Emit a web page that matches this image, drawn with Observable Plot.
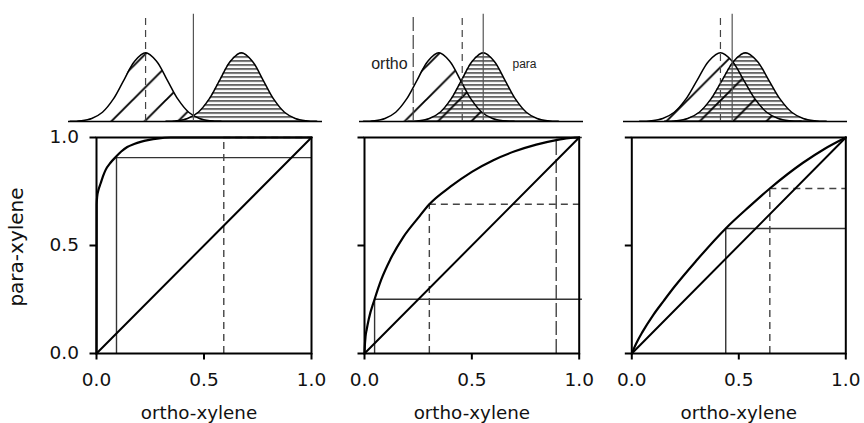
<!DOCTYPE html>
<html><head><meta charset="utf-8">
<script src="https://cdn.jsdelivr.net/npm/d3@7"></script>
<script src="https://cdn.jsdelivr.net/npm/@observablehq/plot@0.6"></script>
<style>
html,body{margin:0;padding:0;background:#fff;}
#chart{position:relative;width:864px;height:423px;overflow:hidden;background:#fff;}
#chart svg{position:absolute;overflow:visible;}
</style></head><body><div id="chart"></div>
<script>
// ---------- data ----------
const xTicks = [0, 0.5, 1];
const yTicks = [0, 0.5, 1];
const xLabel = "ortho-xylene";
const yLabel = "para-xylene";
const seriesNames = ["ortho", "para"];
const chanceLine = [0, 1];

// bell profile: offset (in spreads) -> relative height
const bellOffset = [-3.5, -3, -2.5, -2, -1.5, -1, -0.5, 0, 0.5, 1, 1.5, 2, 2.5, 3, 3.5];
const bellHeight = [0.002, 0.011, 0.044, 0.135, 0.325, 0.607, 0.882, 1, 0.882, 0.607, 0.325, 0.135, 0.044, 0.011, 0.002];

// top distributions (signal units)
const signalMax = [14.5, 12.8, 12.8];
const orthoMean = [4.4, 4.53, 5.54];
const paraMean = [9.87, 7.07, 6.97];
const spread = [1.23, 1.23, 1.32];
const critX1 = [4.4, 7.13];
const critKind1 = ["dashed", "solid"];
const critX2 = [3.07, 5.87, 7.07];
const critKind2 = ["long", "dashed", "solid"];
const critX3 = [5.54, 6.21];
const critKind3 = ["dashed", "solid"];
const nameX = [1.71, 9.43];
const nameY = [0.84, 0.84];

// ROC curves (false alarm rate, hit rate)
const roc1X = [0, 0.0008, 0.003, 0.01, 0.019, 0.03, 0.042, 0.065, 0.088, 0.115, 0.143, 0.175, 0.205, 0.245, 0.282, 0.344, 0.6, 1];
const roc1Y = [0, 0.69, 0.725, 0.76, 0.787, 0.82, 0.849, 0.883, 0.908, 0.935, 0.956, 0.97, 0.98, 0.989, 0.995, 1, 1, 1];
const roc2X = [0, 0.001, 0.005, 0.01, 0.02, 0.047, 0.078, 0.12, 0.18, 0.25, 0.302, 0.4, 0.5, 0.6, 0.7, 0.8, 0.893, 0.95, 1];
const roc2Y = [0, 0.025, 0.08, 0.11, 0.16, 0.251, 0.342, 0.435, 0.538, 0.628, 0.691, 0.772, 0.841, 0.895, 0.936, 0.967, 0.988, 0.997, 1];
const roc3X = [0, 0.02, 0.05, 0.1, 0.15, 0.2, 0.3, 0.439, 0.55, 0.645, 0.8, 0.9, 1];
const roc3Y = [0, 0.045, 0.1, 0.178, 0.245, 0.31, 0.428, 0.579, 0.681, 0.764, 0.883, 0.947, 1];

// ROC operating points (false alarm, hit)
const thrF1 = [0.093, 0.592];
const thrH1 = [0.907, 1.0];
const thrKind1 = ["solid", "dashed"];
const thrF2 = [0.047, 0.302, 0.893];
const thrH2 = [0.251, 0.691, 1.0];
const thrKind2 = ["solid", "dashed", "long"];
const thrF3 = [0.439, 0.645];
const thrH3 = [0.579, 0.764];
const thrKind3 = ["solid", "dashed"];
const thrEnd = [1.0, 1.015, 1.0];

// ---------- drawing ----------
const dashFor = {solid: undefined, dashed: "7,5", long: "14,4"};
const font = '"DejaVu Sans", Verdana, sans-serif';
const smallFont = '"Liberation Sans", Arial, sans-serif';
const chart = document.getElementById("chart");
const fmt = d3.format(".1f");

function place(svg, left, top) {
  svg.style.left = left + "px";
  svg.style.top = top + "px";
  chart.appendChild(svg);
}

const topLayout = [
  {left: 0, width: 330, ml: 68, mr: 8, phase: 32.67},
  {left: 340, width: 260, ml: 19, mr: 17, phase: 19.3},
  {left: 600, width: 264, ml: 23, mr: 17, phase: 21}
];
const critX = [critX1, critX2, critX3];
const critKind = [critKind1, critKind2, critKind3];

function distPlot(p) {
  const L = topLayout[p];
  const sd = spread[p];
  const ortho = bellOffset.map((o, j) => ({x: orthoMean[p] + o * sd, y: bellHeight[j]}));
  const para = bellOffset.map((o, j) => ({x: paraMean[p] + o * sd, y: bellHeight[j]}));
  const crit = critX[p].map((x, j) => ({x, k: critKind[p][j]}));
  const marks = [
    Plot.areaY(ortho, {x: "x", y: "y", curve: "catmull-rom", fill: `url(#diag${p})`}),
    Plot.areaY(para, {x: "x", y: "y", curve: "catmull-rom", fill: `url(#horiz${p})`}),
    Plot.lineY(ortho, {x: "x", y: "y", curve: "catmull-rom", stroke: "#000", strokeWidth: 1.5}),
    Plot.lineY(para, {x: "x", y: "y", curve: "catmull-rom", stroke: "#000", strokeWidth: 1.5}),
    Plot.ruleY([0], {stroke: "#000", strokeWidth: 1.5}),
    ...["solid", "dashed", "long"].map(k => Plot.ruleX(crit.filter(d => d.k === k), {
      x: "x", y1: 0, y2: 1.56, stroke: k === "solid" ? "#555" : "#444", strokeWidth: 1.2,
      strokeDasharray: dashFor[k]
    }))
  ];
  if (p === 1) {
    marks.push(Plot.text([0], {x: () => nameX[0], y: () => nameY[0], text: () => seriesNames[0], fontSize: 16, fill: "#222"}));
    marks.push(Plot.text([0], {x: () => nameX[1], y: () => nameY[1], text: () => seriesNames[1], fontSize: 12, fill: "#222"}));
  }
  const svg = Plot.plot({
    width: L.width, height: 125,
    marginLeft: L.ml, marginRight: L.mr, marginTop: 52.3, marginBottom: 4,
    style: {background: "transparent", fontFamily: smallFont, overflow: "visible"},
    x: {domain: [0, signalMax[p]], axis: null},
    y: {domain: [0, 1], axis: null},
    marks
  });
  const ns = "http://www.w3.org/2000/svg";
  const defs = document.createElementNS(ns, "defs");
  defs.innerHTML =
    `<pattern id="diag${p}" patternUnits="userSpaceOnUse" width="33.333" height="33.333" x="${L.phase}" y="0">` +
    `<path d="M-3,3 L3,-3 M0,33.333 L33.333,0 M30.333,36.333 L36.333,30.333" stroke="#000" stroke-width="1.9" fill="none"/></pattern>` +
    `<pattern id="horiz${p}" patternUnits="userSpaceOnUse" width="8" height="4" x="0" y="0.4">` +
    `<rect x="0" y="0" width="8" height="1.15" fill="#000"/></pattern>`;
  svg.insertBefore(defs, svg.firstChild);
  place(svg, L.left, 0);
}

const rocLayout = [
  {left: 0, width: 330, ml: 96, mr: 19, labelDx: -5},
  {left: 330, width: 260, ml: 34, mr: 11.3, labelDx: 0},
  {left: 590, width: 274, ml: 41.3, mr: 18.7, labelDx: 0}
];
const rocX = [roc1X, roc2X, roc3X];
const rocY = [roc1Y, roc2Y, roc3Y];
const thrF = [thrF1, thrF2, thrF3];
const thrH = [thrH1, thrH2, thrH3];
const thrKind = [thrKind1, thrKind2, thrKind3];

function rocPlot(p) {
  const L = rocLayout[p];
  const curve = rocX[p].map((x, j) => ({x, y: rocY[p][j]}));
  const thr = thrF[p].map((f, j) => ({f, h: thrH[p][j], k: thrKind[p][j]}));
  const marks = [];
  for (const k of ["solid", "dashed", "long"]) {
    const sub = thr.filter(d => d.k === k);
    const style = {stroke: k === "solid" ? "#333" : "#444", strokeWidth: 1.4, strokeDasharray: dashFor[k]};
    marks.push(Plot.ruleX(sub, {x: "f", y1: 0, y2: "h", ...style}));
    marks.push(Plot.ruleY(sub, {y: "h", x1: "f", x2: () => thrEnd[p], ...style}));
  }
  marks.push(
    Plot.line(chanceLine, {x: d => d, y: d => d, stroke: "#000", strokeWidth: 2}),
    Plot.line(curve, {x: "x", y: "y", curve: "monotone-x", stroke: "#000", strokeWidth: 2.2}),
    Plot.frame({stroke: "#000", strokeWidth: 2}),
    Plot.axisX({ticks: xTicks, tickFormat: fmt, tickSize: 6.5, tickPadding: 13, strokeWidth: 2, fontSize: 18.5, label: null, fill: "#111"}),
    Plot.axisY({ticks: yTicks, tickFormat: p === 0 ? fmt : () => "", tickSize: 6.5, tickPadding: 11, strokeWidth: 2, fontSize: 18.5, label: null, fill: "#111"}),
    Plot.text([xLabel], {frameAnchor: "bottom", text: d => d, textAnchor: "middle", lineAnchor: "middle", dx: L.labelDx, dy: 59.6, fontSize: 18.3, fill: "#111"})
  );
  if (p === 0) {
    marks.push(Plot.text([yLabel], {frameAnchor: "left", text: d => d, textAnchor: "middle", lineAnchor: "middle", rotate: -90, dx: -80.4, dy: 1.5, fontSize: 20, fill: "#111"}));
  }
  const svg = Plot.plot({
    width: L.width, height: 298,
    marginLeft: L.ml, marginRight: L.mr, marginTop: 12, marginBottom: 70,
    style: {background: "transparent", fontFamily: font, overflow: "visible"},
    x: {domain: [0, 1]},
    y: {domain: [0, 1]},
    marks
  });
  place(svg, L.left, 125);
}

for (let p = 0; p < 3; p++) { distPlot(p); rocPlot(p); }
</script></body></html>
